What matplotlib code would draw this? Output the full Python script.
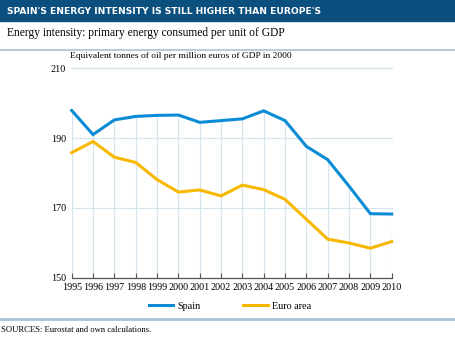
import matplotlib.pyplot as plt
from matplotlib.lines import Line2D
from matplotlib import font_manager

years = list(range(1995, 2011))
spain = [197.9, 191.0, 195.2, 196.2, 196.5, 196.6, 194.5, 195.0, 195.5, 197.8,
         195.0, 187.6, 183.8, 176.2, 168.3, 168.2]
euro_area = [185.8, 189.0, 184.5, 183.0, 178.1, 174.5, 175.1, 173.4, 176.5, 175.2,
             172.4, 166.7, 161.0, 159.9, 158.4, 160.3]
yticks = [150, 170, 190, 210]

W, H = 456, 338
blue = "#0a8bd6"
yellow = "#f7b800"
grid_col = "#d6e4ee"
rule_col = "#a9c3d5"
serif = "Liberation Serif"

# prefer a condensed sans for the header if one is around
title_font = "Lato"
for f in font_manager.fontManager.ttflist:
    if "Condensed" in f.name or "Narrow" in f.name or f.stretch in ("condensed", "semi-condensed"):
        title_font = f.name
        break

fig = plt.figure(figsize=(W / 100, H / 100), dpi=100)

def px(x, y):
    return x / W, 1 - y / H

# header bar
fig.patches.append(plt.Rectangle((0, 1 - 21 / H), 1, 21 / H, transform=fig.transFigure,
                                 color="#0b4f7e", zorder=0))
title = fig.text(*px(7, 11.5), "SPAIN'S ENERGY INTENSITY IS STILL HIGHER THAN EUROPE'S",
                 color="white", fontsize=11, fontweight="bold", family=title_font,
                 va="center", ha="left")
r = fig.canvas.get_renderer()
w = title.get_window_extent(r).width
title.set_fontsize(11 * min(1.0, 312 / w))

fig.text(*px(7, 33), "Energy intensity: primary energy consumed per unit of GDP",
         family=serif, fontsize=8.3, va="center", ha="left")
fig.add_artist(Line2D([0, 1], [1 - 50 / H] * 2, color=rule_col, lw=1.2))
fig.add_artist(Line2D([0, 1], [1 - 318.5 / H] * 2, color=rule_col, lw=2))
fig.text(*px(1, 330), "SOURCES: Eurostat and own calculations.",
         family=serif, fontsize=6.2, va="center", ha="left")
fig.text(*px(70, 56), "Equivalent tonnes of oil per million euros of GDP in 2000",
         family=serif, fontsize=6.8, va="center", ha="left")

left, right, top, bottom = 71.7, 391.7, 68.3, 277.5
ax = fig.add_axes([left / W, 1 - bottom / H, (right - left) / W, (bottom - top) / H])
ax.set_xlim(1995, 2010)
ax.set_ylim(150, 210)
for s in ["top", "right", "left"]:
    ax.spines[s].set_visible(False)
ax.spines["bottom"].set_color("#555555")
ax.spines["bottom"].set_linewidth(0.9)

for v in yticks[1:]:
    ax.axhline(v, color=grid_col, lw=0.9, zorder=1, clip_on=False)
ax.vlines(years, 150, spain, color=grid_col, lw=0.9, zorder=1)

ax.plot(years, euro_area, color=yellow, lw=2.2, zorder=3, clip_on=False,
        solid_joinstyle="miter")
ax.plot(years, spain, color=blue, lw=2.2, zorder=4, clip_on=False,
        solid_joinstyle="miter")

ax.set_xticks(years)
ax.set_xticklabels([str(y) for y in years], family=serif, fontsize=7.3)
ax.tick_params(axis="x", direction="in", length=3.5, width=0.8, color="#555555", pad=4)
ax.set_yticks(yticks)
ax.set_yticklabels([str(v) for v in yticks], family=serif, fontsize=7.3)
ax.tick_params(axis="y", length=0, pad=4)

ax.legend([Line2D([], [], color=blue, lw=2.2), Line2D([], [], color=yellow, lw=2.2)],
          ["Spain", "Euro area"], ncol=2, frameon=False,
          loc="center", bbox_to_anchor=(px(230, 306)[0], px(0, 306)[1]),
          bbox_transform=fig.transFigure, prop={"family": serif, "size": 7.3},
          handlelength=2.4, columnspacing=4.2, handletextpad=0.4, borderpad=0)

fig.savefig("out.png", dpi=100)
